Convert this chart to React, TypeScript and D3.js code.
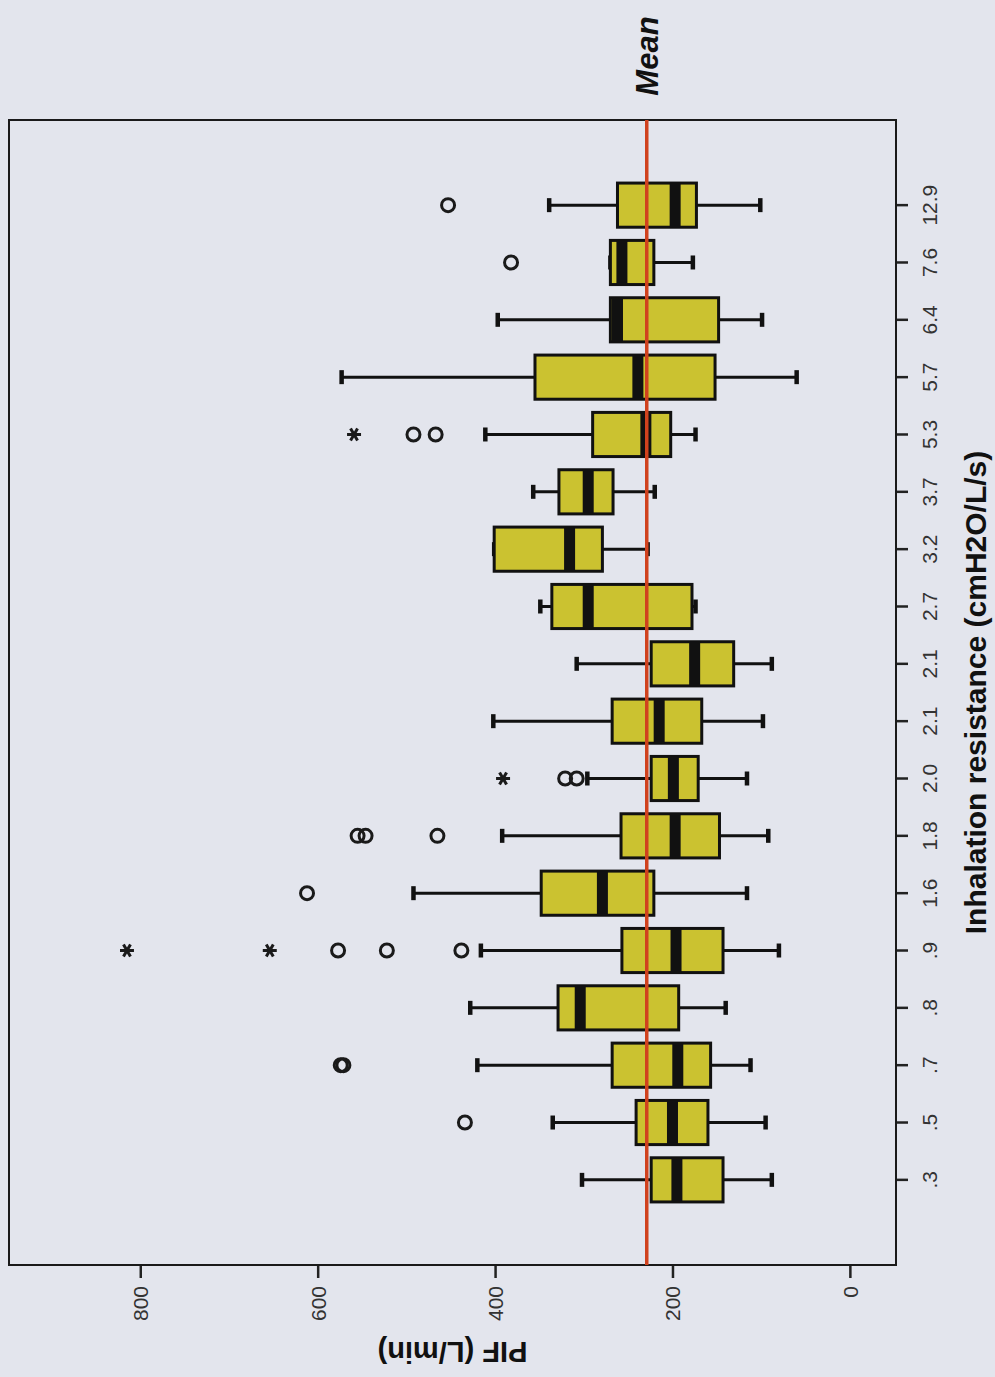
import { useEffect, useRef } from 'react';
import * as d3 from 'd3';

// Inhalation resistance categories (cmH2O/L/s), bottom to top
const categories = ['.3', '.5', '.7', '.8', '.9', '1.6', '1.8', '2.0', '2.1', '2.1', '2.7', '3.2', '3.7', '5.3', '5.7', '6.4', '7.6', '12.9'];

// PIF (L/min) box statistics per category
const whiskerLow = [88, 95, 112, 140, 80, 116, 92, 116, 98, 88, 174, 228, 220, 174, 60, 99, 177, 101];
const q1 = [143, 160, 157, 193, 143, 221, 147, 171, 167, 131, 178, 279, 267, 202, 152, 148, 221, 173];
const median = [195, 200, 194, 304, 196, 279, 197, 199, 215, 175, 295, 316, 295, 230, 239, 262, 257, 197];
const q3 = [224, 241, 268, 329, 257, 348, 258, 224, 268, 224, 336, 401, 328, 290, 355, 270, 270, 262];
const whiskerHigh = [302, 335, 420, 428, 416, 492, 392, 296, 402, 308, 349, 401, 357, 411, 573, 397, 270, 339];

// outliers (circles) and extremes (stars)
const outliers = [[], [434], [571, 574], [], [438, 522, 577], [612], [465, 546, 555], [308, 321], [], [], [], [], [], [467, 492], [], [], [382], [453]];
const extremes = [[], [], [], [], [654, 815], [], [], [391], [], [], [], [], [], [559], [], [], [], []];

const meanPIF = 229;
const pifTicks = [0, 200, 400, 600, 800];

const W = 995;
const H = 1377;
const frame = { left: 9, right: 896, top: 120, bottom: 1265 };
const bg = '#e3e5ed';
const boxFill = '#cbc230';
const font = '"Liberation Sans", Arial, sans-serif';

const App = () => {
    const svgRef = useRef<SVGSVGElement>(null);

    useEffect(() => {
        const svg = d3.select(svgRef.current);
        svg.selectAll('*').remove();

        const x = d3.scaleLinear().domain([-52, 948]).range([frame.right, frame.left]);
        const y = d3
            .scaleBand()
            .domain(categories.map((_, i) => String(i)))
            .range([frame.bottom, frame.top])
            .paddingInner(0.23)
            .paddingOuter(1.1);
        const bw = y.bandwidth();
        const cy = (i: number) => (y(String(i)) ?? 0) + bw / 2;

        svg.append('rect').attr('width', W).attr('height', H).attr('fill', bg);

        // PIF axis (bottom)
        const xAxis = svg
            .append('g')
            .attr('transform', `translate(0,${frame.bottom})`)
            .call(d3.axisBottom(x).tickValues(pifTicks).tickSize(13).tickSizeOuter(0).tickFormat(d3.format('d')));
        xAxis.select('.domain').remove();
        xAxis.selectAll('line').attr('stroke', '#222').attr('stroke-width', 2.5);
        xAxis
            .selectAll('text')
            .attr('transform', 'rotate(-90)')
            .attr('x', -21)
            .attr('y', 0)
            .attr('dy', '0.35em')
            .style('text-anchor', 'end')
            .style('font-family', font)
            .style('font-size', '21px')
            .attr('fill', '#333');

        // category axis (right)
        const yAxis = svg
            .append('g')
            .attr('transform', `translate(${frame.right},0)`)
            .call(d3.axisRight(y).tickSize(12).tickSizeOuter(0).tickFormat(d => categories[+d]));
        yAxis.select('.domain').remove();
        yAxis.selectAll('line').attr('stroke', '#222').attr('stroke-width', 2.5);
        yAxis
            .selectAll('text')
            .attr('transform', 'rotate(-90)')
            .attr('x', 0)
            .attr('y', 34)
            .attr('dy', '0.35em')
            .style('text-anchor', 'middle')
            .style('font-family', font)
            .style('font-size', '21px')
            .attr('fill', '#333');

        // frame
        svg.append('rect')
            .attr('x', frame.left)
            .attr('y', frame.top)
            .attr('width', frame.right - frame.left)
            .attr('height', frame.bottom - frame.top)
            .attr('fill', 'none')
            .attr('stroke', '#1a1a1a')
            .attr('stroke-width', 2);

        const boxes = svg
            .append('g')
            .selectAll('g')
            .data(categories.map((_, i) => i))
            .join('g');

        // whiskers
        boxes.append('line')
            .attr('x1', i => x(whiskerHigh[i]))
            .attr('x2', i => x(whiskerLow[i]))
            .attr('y1', cy)
            .attr('y2', cy)
            .attr('stroke', '#111')
            .attr('stroke-width', 3);
        [whiskerHigh, whiskerLow].forEach(arr => {
            boxes.append('line')
                .attr('x1', i => x(arr[i]))
                .attr('x2', i => x(arr[i]))
                .attr('y1', i => cy(i) - 7)
                .attr('y2', i => cy(i) + 7)
                .attr('stroke', '#111')
                .attr('stroke-width', 4.5);
        });

        // boxes
        boxes.append('rect')
            .attr('x', i => x(q3[i]))
            .attr('y', i => y(String(i)) ?? 0)
            .attr('width', i => x(q1[i]) - x(q3[i]))
            .attr('height', bw)
            .attr('fill', boxFill)
            .attr('stroke', '#111')
            .attr('stroke-width', 3);

        // median bars
        boxes.append('rect')
            .attr('x', i => x(median[i]) - 5.5)
            .attr('y', i => y(String(i)) ?? 0)
            .attr('width', 11)
            .attr('height', bw)
            .attr('fill', '#111');

        // outliers
        boxes.selectAll('circle')
            .data(i => outliers[i].map(v => ({ v, i })))
            .join('circle')
            .attr('cx', d => x(d.v))
            .attr('cy', d => cy(d.i))
            .attr('r', 6.5)
            .attr('fill', 'none')
            .attr('stroke', '#1a1a1a')
            .attr('stroke-width', 3);

        // extremes as asterisks
        const stars = boxes.selectAll('g.star')
            .data(i => extremes[i].map(v => ({ v, i })))
            .join('g')
            .attr('class', 'star')
            .attr('transform', d => `translate(${x(d.v)},${cy(d.i)})`);
        [0, 60, 120].forEach(a => {
            stars.append('line')
                .attr('x1', -7)
                .attr('x2', 7)
                .attr('transform', `rotate(${a})`)
                .attr('stroke', '#1a1a1a')
                .attr('stroke-width', 3);
        });

        // mean line
        svg.append('line')
            .attr('x1', x(meanPIF))
            .attr('x2', x(meanPIF))
            .attr('y1', frame.top)
            .attr('y2', frame.bottom)
            .attr('stroke', '#d0421e')
            .attr('stroke-width', 3.5);

        svg.append('text')
            .attr('transform', `translate(${x(meanPIF)},56) rotate(-90)`)
            .attr('dy', '0.35em')
            .style('text-anchor', 'middle')
            .style('font-family', font)
            .style('font-size', '31px')
            .style('font-weight', 'bold')
            .style('font-style', 'italic')
            .attr('fill', '#111')
            .text('Mean');

        // axis titles
        svg.append('text')
            .attr('transform', `translate(${(frame.left + frame.right) / 2},1352) rotate(180)`)
            .attr('dy', '0.35em')
            .style('text-anchor', 'middle')
            .style('font-family', font)
            .style('font-size', '29px')
            .style('font-weight', 'bold')
            .attr('fill', '#111')
            .text('PIF (L/min)');

        svg.append('text')
            .attr('transform', `translate(975,${(frame.top + frame.bottom) / 2}) rotate(-90)`)
            .attr('dy', '0.35em')
            .style('text-anchor', 'middle')
            .style('font-family', font)
            .style('font-size', '30px')
            .style('font-weight', 'bold')
            .attr('fill', '#111')
            .text('Inhalation resistance (cmH2O/L/s)');
    }, []);

    return (
        <div style={{ position: 'absolute', left: 0, top: 0 }}>
            <svg ref={svgRef} width={W} height={H} style={{ display: 'block' }}></svg>
        </div>
    );
};

export default App;
